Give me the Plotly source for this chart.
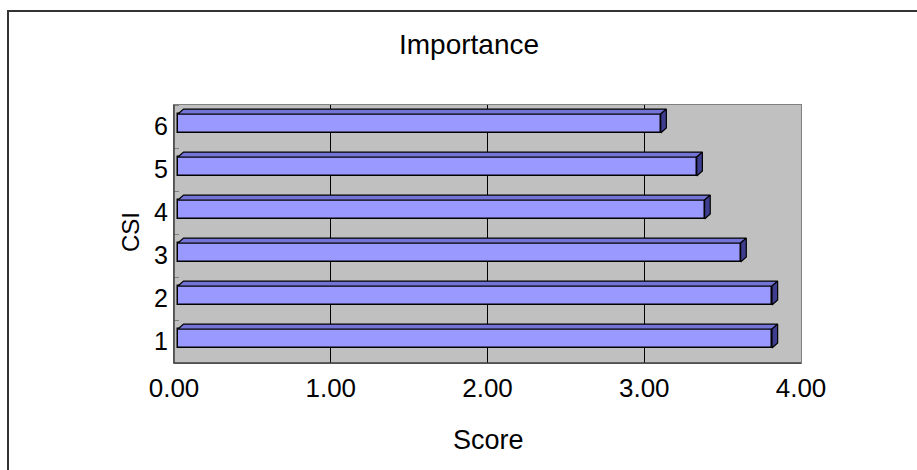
import plotly.graph_objects as go

# ---- data ----
categories = [1, 2, 3, 4, 5, 6]
scores = [3.79, 3.79, 3.59, 3.36, 3.31, 3.08]
x_ticks = [0, 1, 2, 3, 4]
x_tick_labels = ["0.00", "1.00", "2.00", "3.00", "4.00"]
title_text = "Importance"
x_title = "Score"
y_title = "CSI"

# ---- style / geometry ----
FONT = "Liberation Sans, Arial, sans-serif"
FRONT = "#9999FF"
TOP = "#7474D6"
SIDE = "#3E3E90"
BASE = 0.025        # front-face shift of the pseudo-3D bars
YSHIFT = 0.07       # front face offset within the category band
BARW = 0.44
DX = 0.036          # depth in x units
DY = 0.115          # depth in y units

W, H = 917, 470
L, R, T, B = 174, 116, 105, 107
pw, ph = W - L - R, H - T - B

fig = go.Figure()

fig.add_trace(go.Bar(
    y=[c + YSHIFT for c in categories], x=scores, base=BASE,
    orientation="h", width=BARW,
    marker=dict(color=FRONT, line=dict(color="black", width=1.5)),
    hoverinfo="skip", showlegend=False))

for c, v in zip(categories, scores):
    yc = c + YSHIFT
    yt, yb = yc + BARW / 2, yc - BARW / 2
    x0, x1 = BASE, BASE + v
    fig.add_trace(go.Scatter(
        x=[x0, x1, x1 + DX, x0 + DX, x0], y=[yt, yt, yt + DY, yt + DY, yt],
        mode="lines", fill="toself", fillcolor=TOP,
        line=dict(color="black", width=1.2), hoverinfo="skip", showlegend=False))
    fig.add_trace(go.Scatter(
        x=[x1, x1, x1 + DX, x1 + DX, x1], y=[yb, yt, yt + DY, yb + DY, yb],
        mode="lines", fill="toself", fillcolor=SIDE,
        line=dict(color="black", width=1.2), hoverinfo="skip", showlegend=False))

shapes = [
    # outer chart frame
    dict(type="rect", xref="paper", yref="paper",
         x0=(8 - L) / pw, x1=(930 - L) / pw,
         y0=(H - B - 490) / ph, y1=(H - B - 11) / ph,
         line=dict(color="#333333", width=2), layer="above"),
    # darker left & bottom axis lines
    dict(type="line", xref="paper", yref="paper", x0=0, x1=0, y0=0, y1=1,
         line=dict(color="#404040", width=1.5)),
    dict(type="line", xref="paper", yref="paper", x0=0, x1=1, y0=0, y1=0,
         line=dict(color="#404040", width=1.5)),
]

annotations = [
    dict(text=x_title, xref="paper", yref="paper",
         x=(488 - L) / pw, y=(H - B - 440) / ph, xanchor="center", yanchor="middle",
         showarrow=False, font=dict(size=27, family=FONT, color="black")),
    dict(text=y_title, xref="paper", yref="paper", textangle=-90,
         x=(130 - L) / pw, y=(H - B - 232) / ph, xanchor="center", yanchor="middle",
         showarrow=False, font=dict(size=24, family=FONT, color="black")),
]

fig.update_layout(
    width=W, height=H,
    margin=dict(l=L, r=R, t=T, b=B),
    paper_bgcolor="white", plot_bgcolor="#C0C0C0",
    font=dict(family=FONT, color="black"),
    title=dict(text=title_text, x=469 / W, xref="container", xanchor="center",
               y=1 - 44 / H, yref="container", yanchor="middle",
               font=dict(size=28, family=FONT, color="black")),
    xaxis=dict(range=[0, 4], tickvals=x_ticks, ticktext=x_tick_labels,
               showgrid=True, gridcolor="black", gridwidth=1, zeroline=False,
               showline=True, linecolor="#808080", mirror=True,
               ticks="", tickfont=dict(size=26, family=FONT),
               ticklabelstandoff=2),
    yaxis=dict(range=[0.5, 6.5], tickvals=categories,
               ticktext=[str(c) for c in categories],
               showgrid=False, zeroline=False,
               showline=True, linecolor="#808080", mirror=True,
               ticks="", tickfont=dict(size=25, family=FONT),
               ticklabelstandoff=0,
               minor=dict(tick0=0.5, dtick=1, ticks="inside", ticklen=5,
                          tickcolor="#808080", showgrid=False)),
    shapes=shapes,
    annotations=annotations,
    bargap=0,
)

fig.write_html("out.html")
